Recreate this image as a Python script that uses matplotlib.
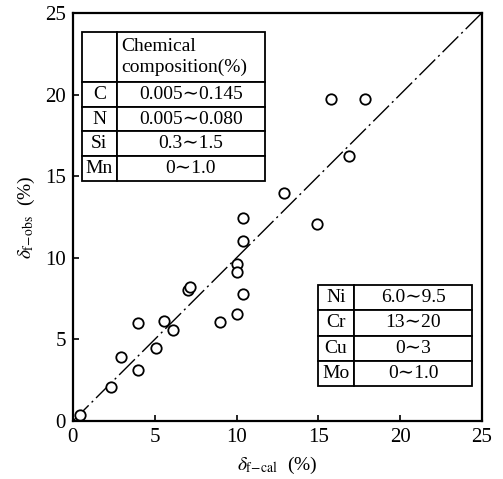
import matplotlib
matplotlib.use("Agg")
import matplotlib.pyplot as plt

plt.rcParams['font.family'] = ['Liberation Serif', 'DejaVu Serif']
plt.rcParams['mathtext.fontset'] = 'stix'

# measured points
delta_cal = [0.45, 2.3, 2.95, 4.0, 3.95, 5.1, 5.55, 6.1, 7.05, 7.15, 9.0,
             10.0, 10.05, 10.05, 10.4, 10.4, 10.4, 12.9, 14.9, 15.8, 16.9, 17.85]
delta_obs = [0.37, 2.1, 3.9, 3.1, 6.0, 4.5, 6.1, 5.6, 8.0, 8.2, 6.05,
             6.55, 9.65, 9.1, 7.8, 11.0, 12.45, 14.0, 12.05, 19.7, 16.25, 19.75]

line_x = [0, 25]
ticks = [0, 5, 10, 15, 20, 25]

# composition tables
elem_a = ['C', 'N', 'Si', 'Mn']
range_a = ['0.005∼0.145', '0.005∼0.080', '0.3∼1.5', '0∼1.0']
elem_b = ['Ni', 'Cr', 'Cu', 'Mo']
range_b = ['6.0∼9.5', '13∼20', '0∼3', '0∼1.0']

fig = plt.figure(figsize=(5.03, 4.79), dpi=100)
ax = fig.add_axes([0.145, 0.121, 0.813, 0.852])

ax.plot(line_x, line_x, color='black', lw=1.0, linestyle=(0, (16, 3, 1.5, 3)))
ax.plot(delta_cal, delta_obs, 'o', mfc='white', mec='black', ms=7.5, mew=1.3,
        linestyle='none')

ax.set_xlim(0, 25)
ax.set_ylim(0, 25)
ax.set_xticks(ticks)
ax.set_yticks(ticks)
ax.tick_params(direction='in', length=4, width=1.2, labelsize=15, pad=5)
for s in ax.spines.values():
    s.set_linewidth(1.6)

ax.set_xlabel(r'$\delta_{\mathrm{f\!-\!cal}}$  (%)', fontsize=14, labelpad=6)
ax.set_ylabel(r'$\delta_{\mathrm{f\!-\!obs}}$  (%)', fontsize=14, labelpad=6)

# top-left table
cells = [['', 'Chemical\ncomposition(%)']] + [[e, r] for e, r in zip(elem_a, range_a)]
t1 = ax.table(cellText=cells, colWidths=[0.19, 0.81],
              bbox=[0.022, 0.588, 0.447, 0.365], cellLoc='center')
t1.auto_set_font_size(False)
t1.set_fontsize(14)
for (r, c), cell in t1.get_celld().items():
    cell.set_linewidth(1.3)
    cell.set_facecolor('white')
    if r == 0:
        cell.set_height(cell.get_height() * 2)
t1[0, 1].set_text_props(ha='left', linespacing=1.25)
t1[0, 1].PAD = 0.03

# bottom-right table
cells2 = [[e, r] for e, r in zip(elem_b, range_b)]
t2 = ax.table(cellText=cells2, colWidths=[0.235, 0.765],
              bbox=[0.599, 0.086, 0.377, 0.247], cellLoc='center')
t2.auto_set_font_size(False)
t2.set_fontsize(14)
for (r, c), cell in t2.get_celld().items():
    cell.set_linewidth(1.3)
    cell.set_facecolor('white')

fig.savefig('out.png', dpi=100)
